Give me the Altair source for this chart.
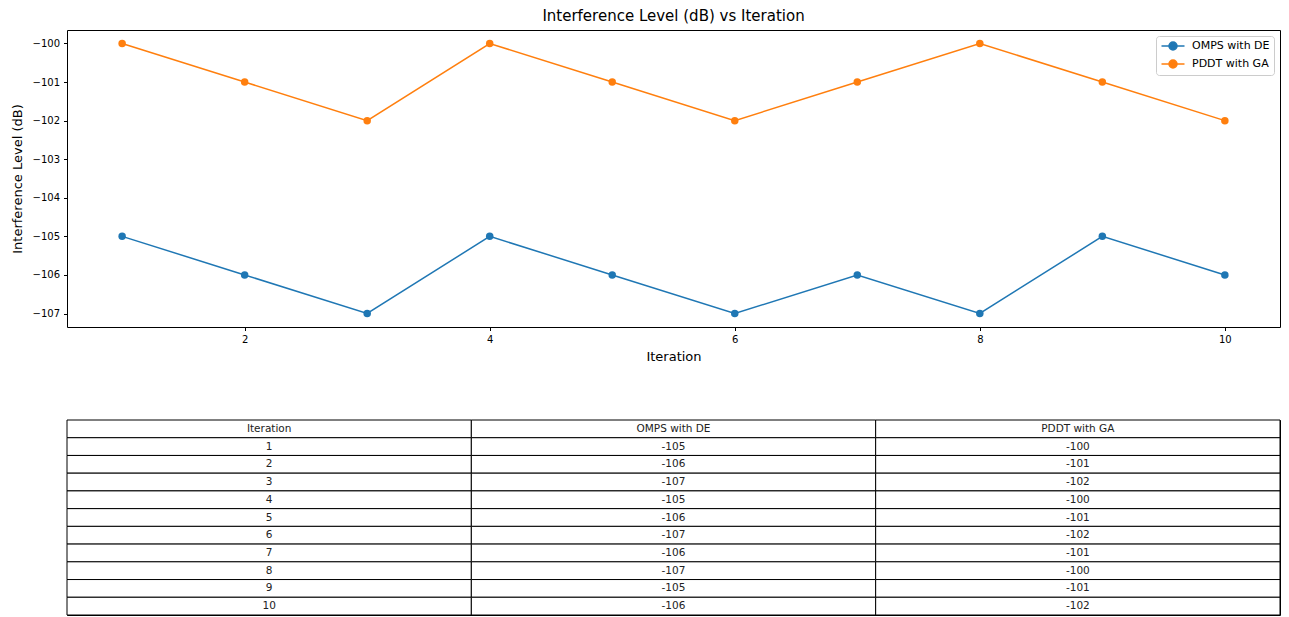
import altair as alt
import pandas as pd

iterations = [1, 2, 3, 4, 5, 6, 7, 8, 9, 10]
omps_de = [-105, -106, -107, -105, -106, -107, -106, -107, -105, -106]
pddt_ga = [-100, -101, -102, -100, -101, -102, -101, -100, -101, -102]
series_names = ["OMPS with DE", "PDDT with GA"]
series_colors = ["#1f77b4", "#ff7f0e"]
table_header = ["Iteration", "OMPS with DE", "PDDT with GA"]
x_ticks = [2, 4, 6, 8, 10]
y_ticks = [-100, -101, -102, -103, -104, -105, -106, -107]

FONT = "DejaVu Sans"
PLOT_W = 1213

long = pd.DataFrame({
    "Iteration": iterations * 2,
    "Level": omps_de + pddt_ga,
    "Series": [series_names[0]] * len(iterations) + [series_names[1]] * len(iterations),
})

legend_symbol = "M-2.3,0L2.3,0M-0.8,0a0.8,0.8 0 1,0 1.6,0a0.8,0.8 0 1,0 -1.6,0Z"

color = alt.Color(
    "Series:N",
    scale=alt.Scale(domain=series_names, range=series_colors),
    legend=alt.Legend(
        title=None, orient="top-right", offset=6, padding=4,
        strokeColor="#cccccc", fillColor="white", cornerRadius=3,
        labelFont=FONT, labelFontSize=11, labelColor="#000000",
        symbolType=legend_symbol, symbolSize=100, symbolStrokeWidth=1.5,
        symbolOffset=7, rowPadding=4, labelOffset=13,
    ),
)

x_enc = alt.X(
    "Iteration:Q",
    scale=alt.Scale(domain=[0.55, 10.45], nice=False, zero=False),
    axis=alt.Axis(values=x_ticks, format="d", title="Iteration", grid=False,
                  domain=False, tickSize=3.5, labelFontSize=10, titleFontSize=13,
                  titleFontWeight="normal", labelPadding=4, titlePadding=6),
)
y_enc = alt.Y(
    "Level:Q",
    scale=alt.Scale(domain=[-107.35, -99.65], nice=False, zero=False),
    axis=alt.Axis(values=y_ticks, title="Interference Level (dB)", grid=False,
                  domain=False, tickSize=3.5, labelFontSize=10, titleFontSize=13,
                  titleFontWeight="normal", labelPadding=4, titlePadding=8,
                  labelExpr="replace(format(datum.value, 'd'), '-', '\u2212')"),
)

base = alt.Chart(long)
lines = base.mark_line(strokeWidth=1.5).encode(x=x_enc, y=y_enc, color=color)
points = base.mark_circle(size=56, opacity=1).encode(x=x_enc, y=y_enc, color=color)

top = alt.layer(lines, points).properties(
    width=PLOT_W, height=297,
    title=alt.TitleParams("Interference Level (dB) vs Iteration", fontSize=15,
                          fontWeight="normal", font=FONT, anchor="middle", offset=6),
)

# table data
rows = []
cells = [table_header] + [[str(i), str(a), str(b)] for i, a, b in zip(iterations, omps_de, pddt_ga)]
for r, row in enumerate(cells):
    for c, val in enumerate(row):
        rows.append({"row": r, "col": c, "val": val})
tdf = pd.DataFrame(rows)

tx = alt.X("col:O", scale=alt.Scale(paddingInner=0, paddingOuter=0), axis=None)
ty = alt.Y("row:O", scale=alt.Scale(paddingInner=0, paddingOuter=0), axis=None)
tbase = alt.Chart(tdf)
rects = tbase.mark_rect(fill="white", stroke="#000000", strokeWidth=1).encode(x=tx, y=ty)
texts = tbase.mark_text(fontSize=10.5, font=FONT, color="#222222").encode(x=tx, y=ty, text="val:N")
table = alt.layer(rects, texts).properties(width=PLOT_W, height=195)

chart = alt.vconcat(top, table, spacing=55).configure(
    font=FONT, padding={"left": 2, "top": 0, "right": 0, "bottom": 0}
).configure_view(stroke="#000000", strokeWidth=1).configure_axis(
    labelFont=FONT, titleFont=FONT, labelColor="#000000", titleColor="#000000",
    tickColor="#000000",
)

chart.save("out.html", embed_options={"renderer": "svg", "actions": False})
